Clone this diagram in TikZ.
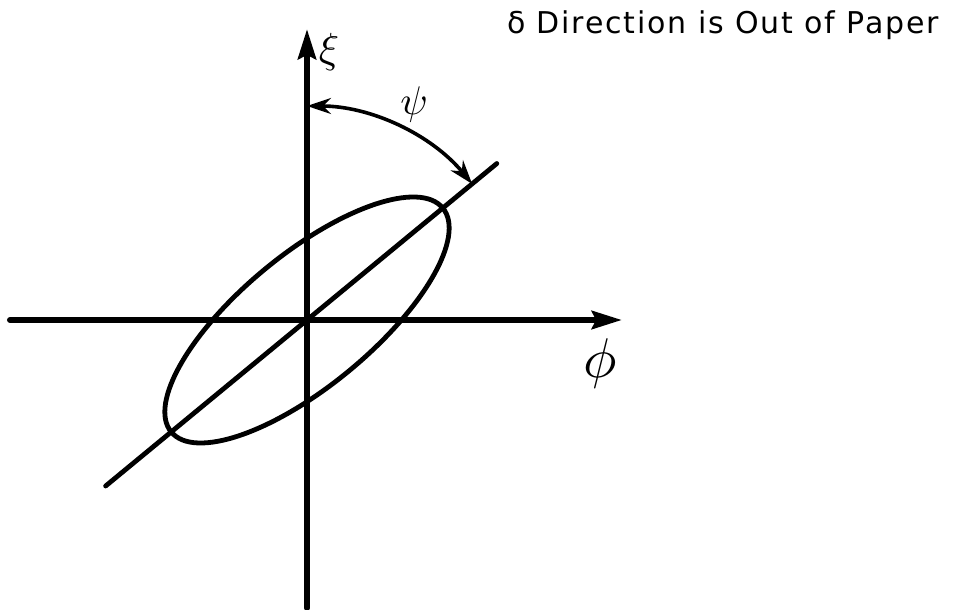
\documentclass[tikz,border=0pt]{standalone}
\usepackage{fontspec}
\newfontfamily\titolofont[LetterSpace=6]{DejaVu Sans}
\usetikzlibrary{arrows.meta}

\begin{document}
\begin{tikzpicture}[x=0.5pt,y=0.5pt,
        asse/.style={line width=3pt,line cap=round,-{Stealth[length=15pt,width=9pt,inset=2pt]}},
        freccia/.style={line width=1.8pt,{Stealth[length=12pt,width=8pt]}-{Stealth[length=12pt,width=8pt]}},
        lettera/.style={inner sep=0pt}]
        \useasboundingbox (-307,-290) rectangle (662,320);
        %punti di riferimento
        \coordinate (O) at (0,0);
        \coordinate (xsx) at (-297,0);
        \coordinate (xdx) at (315,0);
        \coordinate (ybasso) at (0,-288);
        \coordinate (yalto) at (0,291);
        \coordinate (rbasso) at (219.5:261);
        \coordinate (ralto) at (39.5:246);
        \coordinate (psiinizio) at (90:214);

        %assi
        \draw[asse] (xsx) -- (xdx);
        \draw[asse] (ybasso) -- (yalto);
        \node[lettera,scale=2.8] (phi) at (293,-44) {$\phi$};
        \node[lettera,scale=2.1] (xi) at (22,268) {$\xi$};

        %retta inclinata
        \draw[line width=2.4pt,line cap=round] (rbasso) -- (ralto);

        %ellisse
        \draw[line width=2.4pt,rotate=39.5] (O) ellipse [x radius=176,y radius=66];

        %angolo psi
        \draw[freccia] (psiinizio) arc[start angle=90,end angle=39.5,radius=214];
        \node[lettera,scale=2] (psi) at (107,215) {$\psi$};

        %direzione delta
        \node (titolo) at (416,295) {\titolofont\fontsize{15}{18}\selectfont δ Direction is Out of Paper};
    \end{tikzpicture}
\end{document}
